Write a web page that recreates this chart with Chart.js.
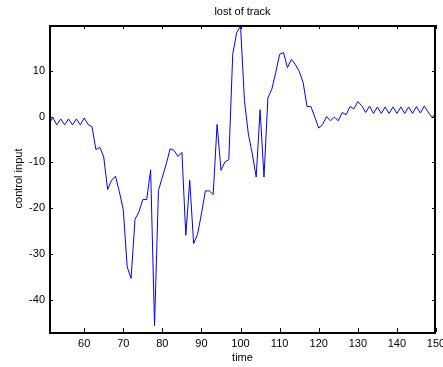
<!DOCTYPE html>
<html>
<head>
<meta charset="utf-8">
<script src="https://cdn.jsdelivr.net/npm/chart.js@4/dist/chart.umd.min.js"></script>
<style>
  html, body { margin: 0; padding: 0; background: #fff; }
  canvas { display: block; }
</style>
</head>
<body>
<canvas id="trackChart" width="443" height="367"></canvas>
<script>
// ** Data **
const time = [
    51, 52, 53, 54, 55, 56, 57, 58, 59, 60,
    61, 62, 63, 64, 65, 66, 67, 68, 69, 70,
    71, 72, 73, 74, 75, 76, 77, 78, 79, 80,
    81, 82, 83, 84, 85, 86, 87, 88, 89, 90,
    91, 92, 93, 94, 95, 96, 97, 98, 99, 100,
    101, 102, 103, 104, 105, 106, 107, 108, 109, 110,
    111, 112, 113, 114, 115, 116, 117, 118, 119, 120,
    121, 122, 123, 124, 125, 126, 127, 128, 129, 130,
    131, 132, 133, 134, 135, 136, 137, 138, 139, 140,
    141, 142, 143, 144, 145, 146, 147, 148, 149, 150
];
const controlInput = [
    -1.5, -0.2, -1.8, -0.5, -1.8, -0.5, -1.8, -0.5, -1.8, -0.3,
    -1.7, -2.2, -7.2, -6.7, -8.8, -15.9, -13.9, -13.0, -16.4, -20.3,
    -32.8, -35.3, -22.4, -20.8, -18.1, -18.1, -11.6, -45.6, -16.1, -13.2,
    -10.3, -7.0, -7.4, -8.7, -7.8, -25.9, -13.9, -27.7, -25.7, -21.2,
    -16.2, -16.2, -17.0, -1.7, -11.7, -9.9, -9.4, 13.6, 18.3, 19.8,
    3.5, -3.8, -8.1, -13.2, 1.5, -13.2, 4.1, 6.0, 9.6, 13.6,
    14.0, 10.7, 12.5, 11.4, 9.9, 7.5, 2.2, 2.2, -0.1, -2.5,
    -1.7, 0.0, -0.9, -0.1, -0.9, 0.9, 0.4, 2.2, 1.7, 3.3,
    2.4, 0.9, 2.3, 0.7, 2.1, 0.7, 2.1, 0.7, 2.1, 0.7,
    2.1, 0.7, 2.1, 0.7, 2.2, 0.8, 2.3, 1.0, -0.2, 0.8
];
const xTicks = [60, 70, 80, 90, 100, 110, 120, 130, 140, 150];
const yTicks = [-40, -30, -20, -10, 0, 10];

const FONT = "'Liberation Sans', Arial, Helvetica, sans-serif";

// ** MATLAB-style box with inward ticks on all four sides **
const boxTicks = {
    id: "boxTicks",
    afterDraw(chart) {
        const { ctx, chartArea: a, scales: { x, y } } = chart;
        const len = 4;
        ctx.save();
        ctx.strokeStyle = "#000";
        ctx.lineWidth = 1;
        ctx.beginPath();
        xTicks.forEach(v => {
            const px = Math.round(x.getPixelForValue(v)) + 0.5;
            ctx.moveTo(px, a.bottom);
            ctx.lineTo(px, a.bottom - len);
            ctx.moveTo(px, a.top);
            ctx.lineTo(px, a.top + len);
        });
        yTicks.forEach(v => {
            const py = Math.round(y.getPixelForValue(v)) + 0.5;
            ctx.moveTo(a.left, py);
            ctx.lineTo(a.left + len, py);
            ctx.moveTo(a.right, py);
            ctx.lineTo(a.right - len, py);
        });
        ctx.stroke();
        // 2px frame sitting on the plot edges
        ctx.lineWidth = 2;
        ctx.strokeRect(a.left + 1, a.top + 1, a.right - a.left - 2, a.bottom - a.top);
        ctx.restore();
    }
};

const ctx = document.getElementById("trackChart").getContext("2d");
new Chart(ctx, {
    type: "line",
    data: {
        datasets: [{
            label: "control input",
            data: time.map((t, i) => ({ x: t, y: controlInput[i] })),
            borderColor: "#0000ff",
            borderWidth: 1,
            pointRadius: 0,
            tension: 0,
            fill: false
        }]
    },
    options: {
        responsive: false,
        devicePixelRatio: 1,
        animation: false,
        layout: { padding: { left: 0, right: 7, top: 0, bottom: 0 } },
        plugins: {
            legend: { display: false },
            tooltip: { enabled: false },
            title: {
                display: true,
                text: "lost of track",
                fullSize: false,
                color: "#000",
                font: { family: FONT, size: 11, weight: "normal" },
                padding: { top: 5, bottom: 6.8 }
            }
        },
        scales: {
            x: {
                type: "linear",
                min: 51,
                max: 150,
                grid: { display: false, drawTicks: false },
                border: { display: false },
                afterBuildTicks: scale => { scale.ticks = xTicks.map(v => ({ value: v })); },
                afterFit: scale => {
                    scale.height = 35;
                    scale.paddingLeft = 0;
                    scale.paddingRight = 0;
                },
                ticks: {
                    color: "#000",
                    font: { family: FONT, size: 11 },
                    padding: 5,
                    maxRotation: 0,
                    callback: v => v
                },
                title: {
                    display: true,
                    text: "time",
                    color: "#000",
                    font: { family: FONT, size: 11 },
                    padding: { top: 0, bottom: 2 }
                }
            },
            y: {
                type: "linear",
                min: -47,
                max: 20,
                grid: { display: false, drawTicks: false },
                border: { display: false },
                afterBuildTicks: scale => { scale.ticks = yTicks.map(v => ({ value: v })); },
                afterFit: scale => {
                    scale.width = 49;
                    scale.paddingTop = 0;
                    scale.paddingBottom = 0;
                },
                ticks: {
                    color: "#000",
                    font: { family: FONT, size: 11 },
                    padding: 4,
                    callback: v => v
                },
                title: {
                    display: true,
                    text: "control input",
                    color: "#000",
                    font: { family: FONT, size: 11 },
                    padding: { top: 12, bottom: 0 }
                }
            }
        }
    },
    plugins: [boxTicks]
});
</script>
</body>
</html>
